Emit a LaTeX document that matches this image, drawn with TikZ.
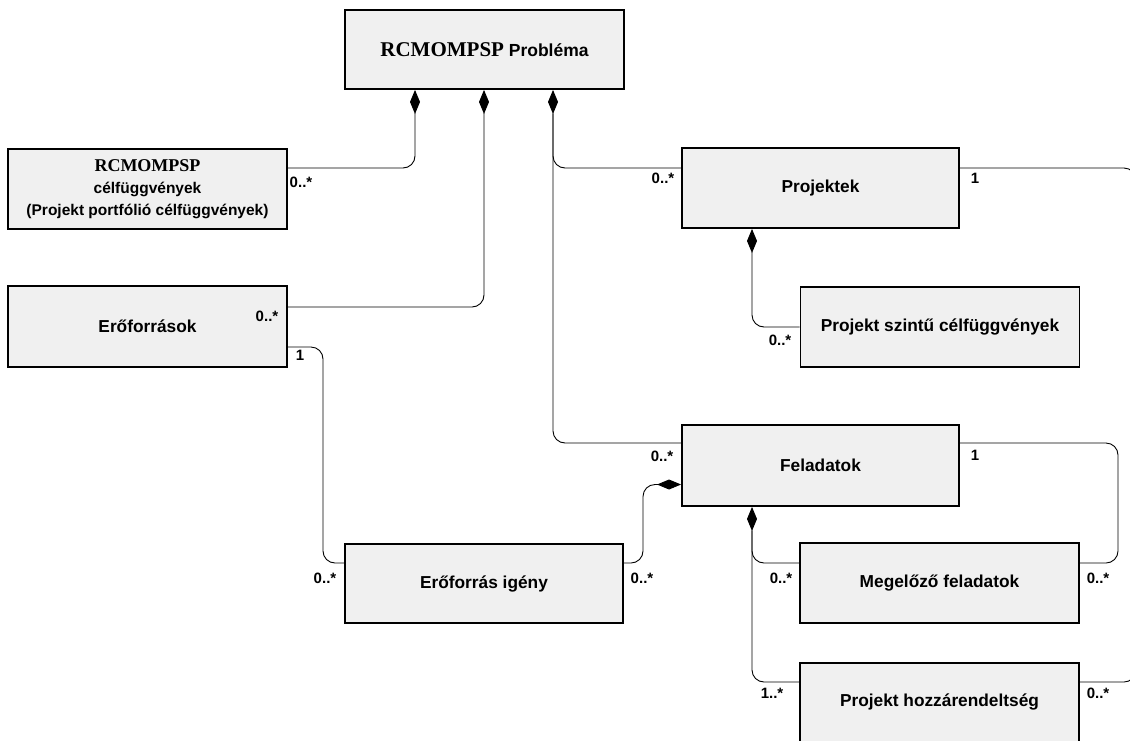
\documentclass[tikz,border=0pt]{standalone}
\usepackage{fontspec}
\setmainfont{Liberation Sans}
\newfontfamily\timesf{Liberation Serif}
\usetikzlibrary{arrows.meta}
\definecolor{boxfill}{HTML}{F0F0F0}
\tikzset{
  cls/.style={draw=black, line width=1.9pt, fill=boxfill, inner sep=2pt, align=center,
    font=\fontsize{17.3}{20}\selectfont\bfseries},
  conn/.style={draw=black, line width=0.9pt, rounded corners=12pt},
  comp/.style={conn, {Diamond[length=24pt,width=10pt]}-},
  mult/.style={font=\fontsize{15}{16}\selectfont\bfseries, inner sep=0pt}
}
\begin{document}
\begin{tikzpicture}[x=1pt,y=-1pt]
\useasboundingbox (0,0) rectangle (1130,740);
\clip (0,0) rectangle (1130,740);
% classes
\node[cls, minimum width=279pt, minimum height=79pt, font=\fontsize{17.5}{22}\selectfont\bfseries] (top) at (484.5,49.5)
  {{\timesf\fontsize{21}{22}\selectfont\bfseries RCMOMPSP} Probléma};
\node[cls, minimum width=279pt, minimum height=80pt, font=\fontsize{15.5}{22}\selectfont\bfseries] (obj) at (147.5,189)
  {{\timesf\fontsize{18}{22}\selectfont\bfseries RCMOMPSP}\\célfüggvények\\(Projekt portfólió célfüggvények)};
\node[cls, minimum width=279pt, minimum height=81pt] (eroforr) at (147.5,326.5) {Erőforrások};
\node[cls, minimum width=277pt, minimum height=80pt] (proj) at (820.5,188) {Projektek};
\node[cls, minimum width=279pt, minimum height=80pt] (pszint) at (940,327) {Projekt szintű célfüggvények};
\node[cls, minimum width=277pt, minimum height=81pt] (felad) at (820.5,465.5) {Feladatok};
\node[cls, minimum width=278pt, minimum height=79pt] (igeny) at (484,583.5) {Erőforrás igény};
\node[cls, minimum width=279pt, minimum height=80pt] (megelozo) at (939.5,583) {Megelőző feladatok};
\node[cls, minimum width=279pt, minimum height=84pt, text depth=9pt] (hozza) at (939.5,705) {Projekt hozzárendeltség};
% bend helpers
\coordinate (b1) at (323,455);
\coordinate (b2) at (643,520);
\coordinate (b3) at (1118,500);
\coordinate (b4) at (1136,420);
% connectors
\draw[comp] ([xshift=-69.5pt]top.south) |- ([yshift=21pt]obj.east);
\draw[comp] ([xshift=-0.5pt]top.south) |- ([yshift=19.5pt]eroforr.east);
\draw[comp] ([xshift=68.5pt]top.south) |- ([yshift=20pt]proj.west);
\draw[conn] ([xshift=68.5pt,yshift=-24pt]top.south) |- ([yshift=22.5pt]felad.west);
\draw[conn] ([yshift=-20.5pt]eroforr.east) -| (b1) |- ([yshift=20.5pt]igeny.west);
\draw[comp] ([yshift=-19pt]felad.west) -| (b2) |- ([yshift=20.5pt]igeny.east);
\draw[comp] ([xshift=-68.5pt]proj.south) |- (pszint.west);
\draw[comp] ([xshift=-68.5pt]felad.south) |- ([yshift=20pt]megelozo.west);
\draw[conn] ([xshift=-68.5pt,yshift=-24pt]felad.south) |- ([yshift=23pt]hozza.west);
\draw[conn] ([yshift=22.5pt]felad.east) -| (b3) |- ([yshift=20pt]megelozo.east);
\draw[conn] ([yshift=20pt]proj.east) -| (b4) |- ([yshift=23pt]hozza.east);
% multiplicities
\node[mult] (m1) at (301,182) {0..*};
\node[mult] (m2) at (267,316) {0..*};
\node[mult] (m3) at (300,355) {1};
\node[mult] (m4) at (663,178) {0..*};
\node[mult] (m5) at (975,178) {1};
\node[mult] (m6) at (780,340) {0..*};
\node[mult] (m7) at (662,456) {0..*};
\node[mult] (m8) at (975,455) {1};
\node[mult] (m9) at (325,578) {0..*};
\node[mult] (m10) at (642,578) {0..*};
\node[mult] (m11) at (781,578) {0..*};
\node[mult] (m12) at (1098,578) {0..*};
\node[mult] (m13) at (772,693) {1..*};
\node[mult] (m14) at (1098,693) {0..*};
\end{tikzpicture}
\end{document}
